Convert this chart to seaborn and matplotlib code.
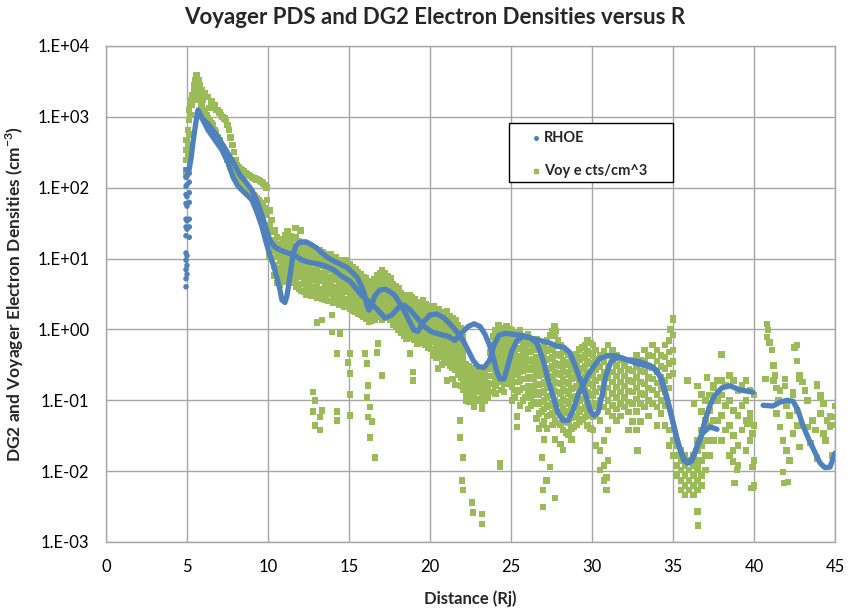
import numpy as np
import pandas as pd
import matplotlib
matplotlib.use("Agg")
import matplotlib.pyplot as plt
import seaborn as sns
from matplotlib.lines import Line2D
from matplotlib.patches import Rectangle
from matplotlib.ticker import FixedLocator, FuncFormatter, NullLocator

# ---------------------------------------------------------------------------
# DG2 model electron density (RHOE) along the two legs of the trajectory
# (R in Jupiter radii, density in cm^-3)
# ---------------------------------------------------------------------------
rhoe_leg_a = [
    (5.12, 175), (5.25, 260), (5.37, 440), (5.5, 700), (5.6, 1000), (5.68, 1250),
    (5.99, 900), (6.30, 650), (6.73, 470), (7.16, 340), (7.53, 225), (7.84, 141),
    (8.15, 105), (8.40, 92), (8.70, 79), (9.01, 67), (9.32, 45), (9.63, 28),
    (9.88, 17), (10.12, 11.2), (10.37, 7.6), (10.56, 5.3), (10.74, 3.6),
    (10.86, 2.6), (11.05, 2.4), (11.17, 3.0), (11.30, 4.6), (11.42, 7.3),
    (11.54, 11.2), (11.73, 15.5), (11.98, 17), (12.41, 17), (12.72, 15.5),
    (13.02, 14), (13.33, 12), (13.64, 10.5), (13.95, 9.5), (14.26, 8.8),
    (14.57, 8.1), (14.88, 7.5), (15.19, 6.4), (15.49, 5.5), (15.74, 4.2),
    (15.93, 3.3), (16.11, 2.2), (16.23, 1.87), (16.42, 2.3), (16.6, 3.0),
    (16.91, 3.6), (17.22, 3.7), (17.53, 3.4), (17.84, 3.0), (18.15, 2.3),
    (18.46, 1.75), (18.77, 1.25), (19.01, 0.98), (19.26, 0.94), (19.57, 1.25),
    (20.0, 1.6), (20.43, 1.65), (20.86, 1.45), (21.23, 1.2), (21.67, 0.92),
    (22.04, 0.70), (22.35, 0.51), (22.65, 0.37), (22.96, 0.30), (23.33, 0.29),
    (23.7, 0.37), (23.95, 0.60), (24.26, 0.83), (24.63, 0.88), (25.06, 0.86),
    (25.56, 0.83), (26.17, 0.77), (26.6, 0.64), (26.98, 0.37), (27.28, 0.2),
    (27.59, 0.115), (27.9, 0.067), (28.21, 0.052), (28.52, 0.052), (28.83, 0.072),
    (29.14, 0.118), (29.44, 0.163), (29.75, 0.225), (30.06, 0.29), (30.49, 0.39),
    (30.99, 0.43), (31.54, 0.42), (32.16, 0.37), (32.96, 0.32), (33.77, 0.29),
    (34.2, 0.22), (34.51, 0.13), (34.81, 0.072), (35.12, 0.038), (35.43, 0.02),
    (35.68, 0.014), (35.99, 0.013), (36.3, 0.017), (36.54, 0.025), (36.85, 0.035),
    (37.28, 0.042), (37.72, 0.039),
]

rhoe_leg_b = [
    (5.62, 1130), (5.93, 960), (6.42, 740), (6.91, 520), (7.41, 340), (7.9, 220),
    (8.27, 150), (8.64, 120), (9.01, 92), (9.38, 60), (9.69, 37), (9.94, 24),
    (10.12, 18), (10.43, 14.5), (10.8, 13), (11.23, 12), (11.67, 11), (12.1, 9.5),
    (12.59, 8.8), (13.09, 8.4), (13.58, 7.8), (14.07, 6.9), (14.57, 5.6),
    (15.06, 4.8), (15.43, 3.8), (15.8, 3.0), (16.3, 2.4), (16.79, 1.87),
    (17.22, 1.45), (17.65, 1.6), (18.02, 2.0), (18.4, 2.2), (18.77, 1.9),
    (19.2, 1.45), (19.63, 1.1), (20.12, 0.92), (20.62, 0.85), (21.11, 0.8),
    (21.54, 0.7), (21.98, 0.9), (22.35, 1.1), (22.72, 1.2), (23.09, 1.1),
    (23.4, 0.85), (23.7, 0.58), (23.95, 0.37), (24.14, 0.25), (24.32, 0.2),
    (24.57, 0.2), (24.81, 0.31), (25.06, 0.5), (25.37, 0.7), (25.74, 0.8),
    (26.17, 0.76), (26.79, 0.7), (27.41, 0.64), (27.84, 0.58), (28.27, 0.56),
    (28.64, 0.47), (28.95, 0.31), (29.26, 0.2), (29.57, 0.13), (29.88, 0.072),
    (30.12, 0.061), (30.37, 0.067), (30.62, 0.118), (30.86, 0.225), (31.17, 0.35),
    (31.6, 0.41), (32.22, 0.37), (32.96, 0.35), (33.58, 0.31), (34.0, 0.265),
    (34.32, 0.19), (34.63, 0.11), (34.94, 0.056), (35.25, 0.027), (35.56, 0.017),
    (35.86, 0.013), (36.17, 0.014), (36.42, 0.02), (36.67, 0.028), (36.98, 0.052),
    (37.28, 0.085), (37.59, 0.118), (38.02, 0.15), (38.52, 0.16), (39.14, 0.14),
    (39.94, 0.13),
]

rhoe_leg_far = [
    (40.56, 0.085), (41.17, 0.083), (41.6, 0.094), (42.04, 0.1), (42.41, 0.097),
    (42.72, 0.072), (43.02, 0.044), (43.33, 0.030), (43.7, 0.0197), (44.07, 0.0131),
    (44.38, 0.0112), (44.69, 0.0114), (45.0, 0.018),
]

# samples near closest approach
rhoe_perijove = [
    (4.94, 180), (4.94, 140), (4.94, 105), (4.94, 80), (4.94, 60), (4.94, 36),
    (4.94, 28), (4.94, 21), (4.94, 12), (4.94, 9.5), (4.94, 7), (4.94, 5.2),
    (4.94, 4.0), (5.0, 150), (5.0, 110), (5.0, 75), (5.0, 55), (5.0, 34),
    (5.0, 26), (5.0, 11), (5.0, 8), (5.0, 6), (5.14, 160), (5.14, 120),
    (5.14, 85), (5.14, 62), (5.14, 36), (5.14, 28), (5.14, 20),
]

# ---------------------------------------------------------------------------
# Voyager electron counts (cm^-3): rows of (R, densities seen at that R)
# ---------------------------------------------------------------------------
voy_rise = [
    (4.97, [150, 177, 245, 340, 470]), (5.05, [280, 400, 650]),
    (5.13, [560, 900, 1250]), (5.22, [1060, 1470, 1730]),
    (5.32, [1730, 2030, 1470]), (5.42, [2390, 2810, 1730]),
    (5.52, [3310, 2810, 2030]), (5.6, [3890, 3310, 2390]),
    (5.7, [3310, 2810, 2030]), (5.8, [2810, 2390, 1730]),
]

voy_descent = [
    (5.9, [2390, 1470]), (6.0, [1730, 1250]), (6.1, [2150, 1250]),
    (6.2, [1900, 1060]), (6.3, [1900, 950]), (6.4, [1330, 900]),
    (6.5, [1650, 820]), (6.6, [1470, 766]), (6.7, [1470, 650]),
    (6.8, [1250, 600]), (6.9, [1250, 510]), (7.0, [1150, 470]),
    (7.1, [1060, 400]), (7.2, [1000, 370]), (7.3, [950, 320]),
    (7.4, [900, 290]), (7.5, [770, 245]), (7.6, [650, 220]),
    (7.7, [510, 200]), (7.8, [400, 185]), (7.9, [320, 177]),
    (8.0, [245, 165]), (8.1, [210, 151]), (8.2, [195, 140]),
    (8.3, [185, 128]), (8.4, [177, 118]), (8.5, [170, 109]),
    (8.6, [160, 104]), (8.7, [155, 100]), (8.8, [151, 95]),
    (8.9, [147, 88]), (9.0, [140, 84]), (9.1, [138, 79]),
    (9.2, [135, 75]), (9.3, [130, 70]), (9.4, [128, 66]),
    (9.5, [125, 63]), (9.6, [120, 60]), (9.7, [115, 57]),
    (9.8, [109, 52]), (9.9, [100, 48]),
    (9.95, [67, 41, 25]), (10.1, [48, 30, 18, 11]),
    (10.25, [35, 24, 15.5, 10]), (10.4, [25, 18, 13, 8, 5.8]),
    (10.55, [20, 15, 11, 6.9, 4.5]),
]

voy_band_inner = [
    (10.75, [16, 12.1, 9.2, 7.4, 5.5, 4.3]),
    (10.9, [18.5, 14.6, 10.3, 8.5, 6.2, 4.7]),
    (11.08, [21.5, 16.2, 12.8, 9.8, 7.1, 5.4]),
    (11.21, [24, 19.5, 14.1, 11.3, 8.4, 6.3, 4.9]),
    (11.4, [20.5, 16.8, 13.2, 10.1, 7.6, 5.7, 4.5]),
    (11.55, [19.2, 15.1, 11.8, 8.9, 7.0, 5.1]),
    (11.72, [20, 13.9, 10.8, 8.1, 6.4, 4.6, 4.0]),
    (11.9, [17.6, 14.4, 12.0, 9.3, 7.2, 5.5, 3.8]),
    (12.04, [15.8, 12.6, 9.9, 7.7, 5.9, 4.4, 3.5]),
    (12.22, [16.9, 13.5, 10.5, 8.3, 6.6, 4.9, 3.4]),
    (12.37, [14.8, 11.4, 9.0, 7.0, 5.3, 4.1, 3.1]),
    (12.55, [15.5, 12.2, 9.6, 7.3, 5.6, 4.3, 3.3]),
    (12.7, [13.3, 10.6, 8.6, 6.6, 5.0, 3.8, 3.0]),
    (12.88, [14.1, 11.0, 8.8, 6.9, 5.2, 4.0, 3.1]),
    (13.03, [12.0, 9.6, 7.4, 5.8, 4.6, 3.4, 2.8]),
    (13.2, [13.0, 10.2, 8.1, 6.3, 4.9, 3.7, 2.9]),
    (13.37, [12.4, 9.8, 7.9, 6.1, 4.8, 3.6, 2.7]),
    (13.55, [11.5, 9.1, 7.1, 5.6, 4.4, 3.3, 2.6]),
    (13.7, [10.9, 8.7, 6.9, 5.4, 4.2, 3.2, 2.5]),
    (13.88, [11.4, 9.0, 7.0, 5.5, 4.3, 3.3, 2.5]),
    (14.03, [10.0, 8.0, 6.3, 5.0, 3.9, 3.0, 2.4]),
    (14.2, [10.5, 8.3, 6.6, 5.1, 4.0, 3.1, 2.35]),
    (14.38, [9.0, 7.2, 5.7, 4.5, 3.5, 2.8, 2.2]),
    (14.55, [9.6, 7.6, 6.0, 4.7, 3.7, 2.9, 2.25]),
    (14.72, [8.6, 6.9, 5.4, 4.3, 3.4, 2.6, 2.1]),
    (14.88, [9.4, 7.6, 6.0, 4.6, 3.6, 2.7, 2.1]),
    (15.05, [8.2, 6.5, 5.1, 4.0, 3.1, 2.4, 1.95]),
    (15.22, [7.6, 6.0, 4.7, 3.7, 2.9, 2.3, 1.85]),
    (15.4, [7.0, 5.6, 4.4, 3.5, 2.8, 2.2, 1.75]),
    (15.56, [6.4, 5.2, 4.1, 3.3, 2.6, 2.1, 1.65]),
    (15.73, [6.0, 4.9, 3.9, 3.1, 2.5, 2.0, 1.6]),
    (15.9, [5.5, 4.5, 3.6, 2.9, 2.3, 1.85, 1.5]),
    (16.05, [5.2, 4.2, 3.4, 2.7, 2.2, 1.75, 1.4]),
    (16.22, [4.5, 3.7, 3.0, 2.4, 1.95, 1.6, 1.3]),
    (16.4, [4.8, 3.9, 3.1, 2.5, 2.0, 1.65, 1.32]),
    (16.56, [5.1, 4.0, 3.2, 2.6, 2.1, 1.7, 1.35]),
    (16.73, [5.9, 4.7, 3.7, 3.0, 2.4, 1.9, 1.5]),
    (16.9, [6.3, 5.0, 4.0, 3.2, 2.55, 2.05, 1.6]),
    (17.05, [6.8, 5.4, 4.3, 3.4, 2.7, 2.2, 1.75, 1.35]),
    (17.22, [6.2, 5.0, 3.9, 3.1, 2.5, 2.0, 1.6]),
    (17.4, [5.7, 4.6, 3.6, 2.9, 2.3, 1.85, 1.45]),
    (17.55, [5.3, 4.2, 3.4, 2.7, 2.1, 1.7, 1.35]),
    (17.73, [4.4, 3.5, 2.8, 2.3, 1.8, 1.45, 1.15]),
    (17.9, [4.1, 3.3, 2.6, 2.1, 1.7, 1.35, 1.08]),
    (18.05, [3.8, 3.0, 2.4, 1.95, 1.55, 1.25, 1.0]),
    (18.22, [3.2, 2.6, 2.1, 1.7, 1.35, 1.1, 0.9]),
    (18.4, [3.0, 2.45, 1.95, 1.6, 1.28, 1.02, 0.82]),
    (18.56, [2.8, 2.3, 1.85, 1.5, 1.2, 0.95, 0.75]),
    (18.73, [3.0, 2.4, 1.95, 1.55, 1.25, 1.0, 0.8]),
    (18.9, [2.85, 2.3, 1.85, 1.48, 1.18, 0.95, 0.76]),
    (19.05, [2.7, 2.2, 1.75, 1.4, 1.1, 0.9, 0.72]),
    (19.22, [2.3, 1.85, 1.5, 1.2, 0.95, 0.78, 0.62]),
    (19.4, [2.45, 1.98, 1.58, 1.26, 1.0, 0.81, 0.65]),
    (19.56, [2.6, 2.1, 1.65, 1.3, 1.05, 0.84, 0.68]),
    (19.73, [2.3, 1.85, 1.45, 1.15, 0.92, 0.74, 0.6]),
    (19.9, [2.15, 1.72, 1.38, 1.1, 0.88, 0.7, 0.56]),
    (20.05, [2.0, 1.6, 1.3, 1.05, 0.84, 0.67, 0.53]),
]

voy_band_middle = [
    (20.22, [2.1, 1.7, 1.35, 1.05, 0.85, 0.66, 0.52, 0.42]),
    (20.4, [1.95, 1.55, 1.25, 0.98, 0.79, 0.62, 0.5, 0.4]),
    (20.56, [1.9, 1.5, 1.2, 0.95, 0.76, 0.6, 0.48]),
    (20.73, [1.65, 1.3, 1.05, 0.82, 0.66, 0.52, 0.41, 0.32]),
    (20.9, [1.72, 1.37, 1.1, 0.86, 0.69, 0.54, 0.43, 0.34]),
    (21.05, [1.8, 1.45, 1.15, 0.9, 0.72, 0.57, 0.45, 0.36, 0.19]),
    (21.22, [1.55, 1.25, 0.98, 0.78, 0.62, 0.49, 0.39, 0.31]),
    (21.4, [1.45, 1.15, 0.92, 0.73, 0.58, 0.46, 0.36, 0.29, 0.2]),
    (21.56, [1.35, 1.08, 0.86, 0.68, 0.54, 0.43, 0.34, 0.27, 0.165]),
    (21.73, [1.15, 0.92, 0.73, 0.58, 0.46, 0.37, 0.29, 0.23]),
    (21.9, [1.05, 0.84, 0.67, 0.53, 0.42, 0.34, 0.27, 0.21, 0.16]),
    (22.05, [0.98, 0.78, 0.62, 0.49, 0.39, 0.31, 0.245, 0.19, 0.14]),
    (22.22, [0.32, 0.26, 0.2, 0.16, 0.125, 0.1]),
    (22.4, [0.3, 0.24, 0.19, 0.15, 0.118, 0.094]),
    (22.56, [0.28, 0.22, 0.175, 0.14, 0.11]),
    (22.73, [0.25, 0.2, 0.16, 0.125, 0.098, 0.08]),
    (22.9, [0.26, 0.205, 0.165, 0.13, 0.1]),
    (23.05, [0.27, 0.21, 0.17, 0.135, 0.105]),
    (23.22, [0.24, 0.19, 0.15, 0.12, 0.092, 0.075]),
    (23.4, [0.26, 0.2, 0.16, 0.128, 0.1]),
    (23.56, [0.28, 0.22, 0.175, 0.14, 0.11]),
    (23.73, [0.62, 0.47, 0.36, 0.28, 0.22, 0.17, 0.13]),
    (23.9, [0.8, 0.62, 0.48, 0.37, 0.29, 0.22, 0.17, 0.13]),
    (24.05, [0.98, 0.76, 0.58, 0.45, 0.35, 0.27, 0.21, 0.16, 0.125]),
    (24.22, [1.15, 0.88, 0.68, 0.53, 0.41, 0.32, 0.25, 0.19]),
    (24.4, [1.05, 0.82, 0.63, 0.49, 0.38, 0.3, 0.23, 0.18, 0.14]),
    (24.56, [0.98, 0.76, 0.59, 0.46, 0.36, 0.28, 0.22, 0.17, 0.13]),
    (24.73, [1.1, 0.85, 0.66, 0.51, 0.4, 0.31, 0.24, 0.18]),
    (24.9, [1.02, 0.79, 0.61, 0.47, 0.37, 0.29, 0.22, 0.17]),
    (25.05, [0.96, 0.74, 0.57, 0.44, 0.34, 0.26, 0.2, 0.155, 0.1]),
    (25.22, [0.85, 0.66, 0.5, 0.39, 0.3, 0.23, 0.18, 0.14, 0.11]),
    (25.4, [0.9, 0.69, 0.53, 0.4, 0.31, 0.24, 0.18, 0.13]),
    (25.56, [0.98, 0.72, 0.55, 0.42, 0.32, 0.25, 0.19, 0.14, 0.085]),
    (25.73, [0.75, 0.57, 0.44, 0.34, 0.26, 0.2, 0.15, 0.1]),
    (25.9, [0.8, 0.6, 0.46, 0.35, 0.27, 0.2, 0.15, 0.11]),
    (26.05, [0.85, 0.64, 0.49, 0.37, 0.28, 0.21, 0.16, 0.12, 0.075]),
    (26.22, [0.62, 0.48, 0.36, 0.27, 0.2, 0.15, 0.11, 0.085]),
    (26.4, [0.68, 0.51, 0.38, 0.29, 0.21, 0.16, 0.12, 0.09]),
    (26.56, [0.72, 0.54, 0.41, 0.31, 0.23, 0.17, 0.13, 0.095, 0.055]),
    (26.73, [0.52, 0.39, 0.29, 0.22, 0.165, 0.12, 0.09, 0.065, 0.04]),
    (26.9, [0.56, 0.41, 0.31, 0.23, 0.17, 0.128, 0.095, 0.07, 0.045]),
    (27.05, [0.6, 0.44, 0.33, 0.25, 0.18, 0.135, 0.1, 0.075, 0.05, 0.028]),
    (27.22, [0.7, 0.5, 0.37, 0.27, 0.2, 0.15, 0.11, 0.08, 0.06, 0.04]),
    (27.4, [0.82, 0.52, 0.38, 0.28, 0.21, 0.155, 0.115, 0.085, 0.062]),
    (27.56, [0.95, 0.55, 0.4, 0.3, 0.22, 0.16, 0.12, 0.088, 0.065, 0.045]),
    (27.73, [0.82, 0.45, 0.33, 0.25, 0.18, 0.135, 0.1, 0.073, 0.052, 0.028]),
    (27.9, [0.7, 0.44, 0.32, 0.24, 0.175, 0.13, 0.095, 0.068, 0.048]),
    (28.05, [0.6, 0.43, 0.31, 0.23, 0.17, 0.125, 0.09, 0.065, 0.045, 0.024]),
    (28.22, [0.52, 0.37, 0.27, 0.2, 0.145, 0.105, 0.077, 0.056, 0.038, 0.02]),
    (28.4, [0.48, 0.34, 0.25, 0.18, 0.135, 0.098, 0.07, 0.05, 0.035]),
    (28.56, [0.44, 0.32, 0.23, 0.17, 0.125, 0.09, 0.066, 0.048, 0.033]),
    (28.73, [0.38, 0.27, 0.2, 0.145, 0.105, 0.077, 0.056, 0.04, 0.028]),
    (28.9, [0.41, 0.29, 0.21, 0.15, 0.11, 0.08, 0.058, 0.042]),
    (29.05, [0.44, 0.31, 0.22, 0.16, 0.115, 0.083, 0.06, 0.045]),
    (29.22, [0.52, 0.37, 0.26, 0.19, 0.135, 0.097, 0.07, 0.05]),
    (29.4, [0.56, 0.4, 0.28, 0.2, 0.145, 0.104, 0.075, 0.054]),
    (29.56, [0.6, 0.43, 0.3, 0.22, 0.155, 0.11, 0.08, 0.058]),
    (29.73, [0.7, 0.5, 0.35, 0.25, 0.18, 0.13, 0.09, 0.065, 0.044]),
    (29.9, [0.64, 0.46, 0.33, 0.23, 0.17, 0.12, 0.086, 0.06, 0.04]),
    (30.05, [0.6, 0.43, 0.31, 0.22, 0.16, 0.115, 0.082, 0.058, 0.038]),
]

voy_band_outer = [
    (30.25, [0.51, 0.38, 0.27, 0.19, 0.13, 0.09, 0.06, 0.023]),
    (30.5, [0.43, 0.3, 0.21, 0.15, 0.1, 0.052, 0.0197, 0.0103]),
    (30.75, [0.5, 0.35, 0.25, 0.17, 0.12, 0.08, 0.027, 0.0121, 0.0074]),
    (31.0, [0.6, 0.42, 0.3, 0.21, 0.15, 0.1, 0.07, 0.038, 0.0142]),
    (31.25, [0.51, 0.36, 0.25, 0.18, 0.125, 0.085, 0.06]),
    (31.5, [0.43, 0.31, 0.22, 0.155, 0.11, 0.075, 0.052]),
    (31.75, [0.37, 0.26, 0.18, 0.13, 0.09, 0.06]),
    (32.0, [0.31, 0.22, 0.16, 0.11, 0.08]),
    (32.25, [0.27, 0.19, 0.135, 0.095, 0.068, 0.038]),
    (32.5, [0.37, 0.26, 0.185, 0.13, 0.09, 0.05]),
    (32.75, [0.43, 0.3, 0.21, 0.15, 0.105, 0.07, 0.038]),
    (33.0, [0.37, 0.26, 0.18, 0.125, 0.088, 0.05]),
    (33.25, [0.51, 0.35, 0.25, 0.17, 0.12, 0.08]),
    (33.5, [0.43, 0.3, 0.21, 0.15, 0.1, 0.06]),
    (33.75, [0.6, 0.42, 0.29, 0.2, 0.14, 0.09]),
    (34.0, [0.51, 0.36, 0.25, 0.175, 0.12, 0.08, 0.044]),
    (34.25, [0.43, 0.3, 0.21, 0.145, 0.1, 0.065]),
    (34.5, [0.6, 0.41, 0.28, 0.19, 0.13, 0.085, 0.044]),
    (34.75, [0.7, 0.48, 0.33, 0.22, 0.15, 0.038, 0.023]),
    (35.0, [1.35, 0.83, 0.51, 0.35, 0.24, 0.027, 0.0167]),
    (35.25, [0.023, 0.0167, 0.0121, 0.0087]),
    (35.5, [0.0197, 0.0142, 0.0103, 0.0074, 0.0054]),
    (35.75, [0.0167, 0.0121, 0.0087, 0.0063, 0.0046]),
    (36.0, [0.0142, 0.0103, 0.0074, 0.0054]),
    (36.25, [0.0167, 0.0121, 0.0087, 0.0063, 0.0046]),
    (36.5, [0.027, 0.0197, 0.0142, 0.0103, 0.0074, 0.0054]),
    (36.75, [0.038, 0.023, 0.0142, 0.0087, 0.0063]),
    (37.0, [0.1, 0.052, 0.027, 0.0167, 0.0103]),
    (37.25, [0.118, 0.072, 0.044, 0.027, 0.0167]),
    (37.5, [0.163, 0.1, 0.052, 0.027]), (37.75, [0.19, 0.1, 0.052]),
    (38.0, [0.19, 0.118, 0.061, 0.027]), (38.25, [0.163, 0.085, 0.038]),
    (38.5, [0.225, 0.1, 0.044, 0.0167]), (38.75, [0.19, 0.072, 0.032]),
    (39.0, [0.138, 0.061, 0.023, 0.0121]), (39.25, [0.163, 0.085, 0.038]),
    (39.5, [0.19, 0.1, 0.052, 0.0197]), (39.75, [0.138, 0.052, 0.027]),
    (40.0, [0.118, 0.044, 0.0142, 0.0063]),
]

voy_far = [
    (40.8, 1.2), (40.85, 0.98), (40.8, 0.78), (40.95, 0.65), (41.1, 0.51),
    (40.7, 0.2), (41.2, 0.31), (41.3, 0.225), (41.4, 0.15), (41.6, 0.138),
    (41.9, 0.2), (42.5, 0.56), (42.65, 0.36), (42.8, 0.225), (43.0, 0.18),
    (43.15, 0.138), (43.9, 0.17), (44.1, 0.118), (44.3, 0.09), (45.0, 0.083),
    (41.4, 0.065), (41.6, 0.042), (41.8, 0.027), (42.0, 0.0197), (42.2, 0.0142),
    (41.8, 0.0097), (42.1, 0.007), (42.4, 0.034), (42.8, 0.022), (43.5, 0.025),
    (43.9, 0.015), (44.3, 0.034), (44.5, 0.052), (44.7, 0.042), (44.9, 0.058),
    (43.3, 0.042), (42.65, 0.072), (44.1, 0.065), (39.9, 0.034), (39.9, 0.0058),
    (39.9, 0.0115), (39.6, 0.046), (39.75, 0.065), (41.5, 0.1), (42.0, 0.085),
    (42.4, 0.118), (43.6, 0.052), (44.4, 0.027), (44.8, 0.0167), (43.8, 0.038),
    (43.3, 0.1), (42.7, 0.044), (42.2, 0.061), (41.2, 0.19), (42.65, 0.6),
    (41.9, 0.16), (42.4, 0.13), (42.8, 0.2), (43.9, 0.16), (44.1, 0.11),
    (44.7, 0.06), (44.9, 0.045), (41.85, 0.0068),
]

voy_sparse = [
    (12.78, 0.13), (12.9, 0.1), (12.78, 0.069), (13.33, 0.072), (13.2, 0.058),
    (12.9, 0.044), (13.2, 0.038), (14.26, 0.069), (14.26, 0.052), (13.02, 1.25),
    (13.33, 1.35), (13.95, 1.6), (13.95, 0.92), (14.44, 0.88), (14.26, 0.46),
    (15.06, 0.46), (14.94, 0.34), (15.06, 0.24), (15.06, 0.12), (15.06, 0.061),
    (15.99, 0.46), (16.11, 0.33), (16.17, 0.163), (16.11, 0.11), (16.3, 0.081),
    (16.17, 0.058), (16.42, 0.05), (16.3, 0.03), (16.6, 0.0155), (16.79, 0.63),
    (16.73, 0.47), (17.04, 0.225), (18.77, 0.46), (18.95, 0.25), (18.95, 0.19),
    (20.5, 0.28), (21.85, 0.052), (21.85, 0.03), (22.04, 0.0156), (21.98, 0.0074),
    (22.04, 0.0054), (22.59, 0.0036), (22.65, 0.0026), (23.2, 0.0025),
    (23.2, 0.0018), (24.32, 0.0131), (24.32, 0.0115), (25.37, 0.059),
    (25.37, 0.042), (26.98, 0.0054), (26.98, 0.0031), (27.72, 0.0042),
    (26.9, 0.0155), (27.4, 0.0115), (27.2, 0.0074), (30.9, 0.0082),
    (30.9, 0.0054), (32.8, 0.0197), (36.5, 0.0027), (36.55, 0.0017),
    (36.5, 0.0115), (38.7, 0.0197), (38.7, 0.0136), (38.95, 0.0103),
    (35.0, 1.45), (34.8, 1.0), (38.0, 0.44), (38.8, 0.0068), (39.8, 0.0058),
    (12.0, 25), (11.7, 27), (27.7, 1.1), (27.75, 0.95), (24.8, 0.98),
    (35.9, 0.19), (36.5, 0.16), (36.75, 0.12), (37.1, 0.21), (37.5, 0.15),
    (36.75, 0.07), (36.3, 0.09),
]

TITLE = "Voyager PDS and DG2 Electron Densities versus R"
XLABEL = "Distance (Rj)"
YLABEL = r"DG2 and Voyager Electron Densities (cm$^{\mathbf{-3}}$)"
LEGEND_LABELS = ["RHOE", "Voy e cts/cm^3"]
X_TICKS = [0, 5, 10, 15, 20, 25, 30, 35, 40, 45]
Y_TICKS = [1e-3, 1e-2, 1e-1, 1e0, 1e1, 1e2, 1e3, 1e4]

BLUE = "#4F81BD"
GREEN = "#9BBB59"
GRID = "#A6A6A6"


def pairs_frame(pairs):
    return pd.DataFrame(pairs, columns=["R", "n"])


def rows_frame(*blocks):
    r, n = [], []
    for block in blocks:
        for rj, vals in block:
            r.extend([rj] * len(vals))
            n.extend(vals)
    return pd.DataFrame({"R": r, "n": n})


sns.set_theme(style="white")
plt.rcParams["font.family"] = ["Lato", "DejaVu Sans"]
plt.rcParams["mathtext.fontset"] = "custom"
plt.rcParams["mathtext.bf"] = "Lato:bold"
plt.rcParams["mathtext.rm"] = "Lato"

fig = plt.figure(figsize=(8.49, 6.11), dpi=100)
ax = fig.add_axes([106 / 849, 69 / 611, 729 / 849, 496 / 611])

voy = pd.concat(
    [rows_frame(voy_rise, voy_descent, voy_band_inner, voy_band_middle, voy_band_outer),
     pairs_frame(voy_far), pairs_frame(voy_sparse)],
    ignore_index=True,
)

sns.scatterplot(data=voy, x="R", y="n", marker="s", s=22, color=GREEN,
                edgecolor="none", linewidth=0, ax=ax, legend=False, zorder=3)

for leg in (rhoe_leg_a, rhoe_leg_b, rhoe_leg_far):
    sns.lineplot(data=pairs_frame(leg), x="R", y="n", sort=False, estimator=None,
                 color=BLUE, lw=3.8, ax=ax, legend=False, zorder=4,
                 solid_capstyle="round", solid_joinstyle="round")
sns.scatterplot(data=pairs_frame(rhoe_perijove), x="R", y="n", marker="o", s=16,
                color=BLUE, edgecolor="none", linewidth=0, ax=ax, legend=False,
                zorder=4)

ax.set_yscale("log")
ax.set_xlim(0, 45)
ax.set_ylim(1e-3, 1e4)
ax.xaxis.set_major_locator(FixedLocator(X_TICKS))
ax.yaxis.set_major_locator(FixedLocator(Y_TICKS))
ax.yaxis.set_minor_locator(NullLocator())
ax.yaxis.set_major_formatter(
    FuncFormatter(lambda v, _: "1.E{:+03d}".format(int(round(np.log10(v))))))
ax.xaxis.set_major_formatter(FuncFormatter(lambda v, _: f"{int(v)}"))

ax.grid(True, which="major", color=GRID, lw=1.0)
ax.set_axisbelow(True)
for side in ax.spines.values():
    side.set_color(GRID)
    side.set_linewidth(1.0)
ax.tick_params(axis="both", which="major", direction="out", length=5,
               width=1.0, color=GRID, labelsize=12, labelcolor="black", pad=7)

ax.set_xlabel(XLABEL, fontsize=12, fontweight="bold", labelpad=11)
ax.set_ylabel(YLABEL, fontsize=12.5, fontweight="bold", labelpad=8)
fig.suptitle(TITLE, x=435 / 849, y=1 - 18 / 611, va="center",
             fontsize=16, fontweight="bold")

# legend box
fig.add_artist(Rectangle((509 / 849, 1 - 182 / 611), 164 / 849, 59 / 611,
                         transform=fig.transFigure, facecolor="white",
                         edgecolor="black", lw=1.0, zorder=10))
for (ypix, col, mk), label in zip([(138, BLUE, "o"), (171, GREEN, "s")], LEGEND_LABELS):
    fig.add_artist(Line2D([536 / 849], [1 - ypix / 611], transform=fig.transFigure,
                          marker=mk, ms=2.6, color=col, ls="none", zorder=11))
    fig.text(544 / 849, 1 - ypix / 611, label, fontsize=10.5, fontweight="bold",
             va="center", ha="left", zorder=11)

fig.savefig("out.png", dpi=100)
